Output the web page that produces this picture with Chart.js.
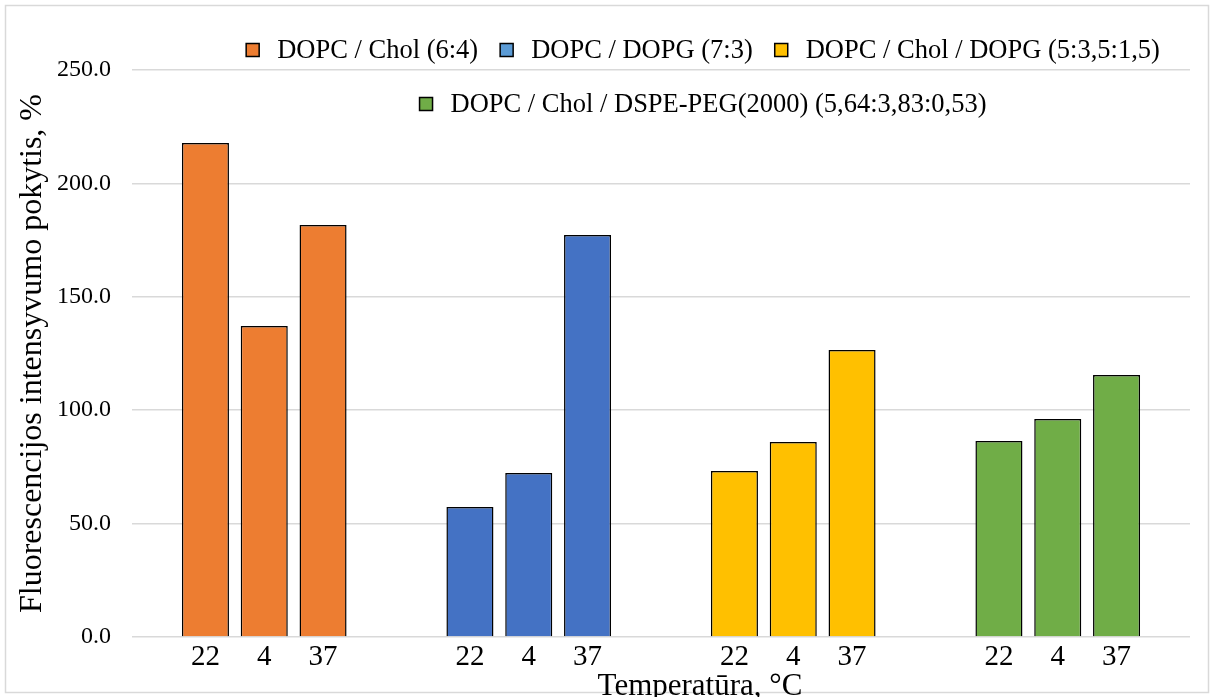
<!DOCTYPE html>
<html>
<head>
<meta charset="utf-8">
<script src="https://cdn.jsdelivr.net/npm/chart.js@4/dist/chart.umd.min.js"></script>
<style>
  html, body { margin: 0; padding: 0; background: #fff; }
</style>
</head>
<body>
<canvas id="myChart" width="1214" height="697"></canvas>
<script>
// data
const groups = ['DOPC / Chol (6:4)', 'DOPC / DOPG (7:3)', 'DOPC / Chol / DOPG (5:3,5:1,5)', 'DOPC / Chol / DSPE-PEG(2000) (5,64:3,83:0,53)'];
const temps = ['22', '4', '37'];
const t22 = [217.8, 57.3, 73.2, 86.4];
const t4 = [137.1, 72.3, 86.0, 96.1];
const t37 = [181.7, 177.2, 126.5, 115.5];
const xTitle = 'Temperatūra, °C';
const yTitle = 'Fluorescencijos intensyvumo pokytis, %';

const barColors = ['#ED7D31', '#4472C4', '#FFC000', '#70AD47'];
const legendColors = ['#ED7D31', '#5B9BD5', '#FFC000', '#70AD47'];
const serif = '"Liberation Serif", "Times New Roman", serif';

// grey frame round the whole picture
const framePlugin = {
  id: 'frame',
  beforeDraw(chart) {
    const ctx = chart.ctx;
    ctx.save();
    ctx.fillStyle = '#fff';
    ctx.fillRect(0, 0, chart.width, chart.height);
    ctx.strokeStyle = '#d9d9d9';
    ctx.lineWidth = 1.5;
    ctx.strokeRect(5.5, 5.5, chart.width - 11, chart.height - 10);
    ctx.restore();
  }
};

// 22 / 4 / 37 under each bar, plus the axis title (sits a bit right of centre, cut by the edge)
const tempTicks = {
  id: 'tempTicks',
  afterDatasetsDraw(chart) {
    const ctx = chart.ctx;
    const area = chart.chartArea;
    ctx.save();
    ctx.font = '29px ' + serif;
    ctx.fillStyle = '#000';
    ctx.textAlign = 'center';
    ctx.textBaseline = 'middle';
    chart.data.datasets.forEach((ds, i) => {
      chart.getDatasetMeta(i).data.forEach(bar => {
        ctx.fillText(temps[i], bar.x, area.bottom + 20);
      });
    });
    ctx.font = '31px ' + serif;
    ctx.textBaseline = 'alphabetic';
    ctx.fillText(xTitle, (area.left + area.right) / 2 + 39, chart.height - 2);
    ctx.restore();
  }
};

// legend by group colour, two rows like the original
const groupLegend = {
  id: 'groupLegend',
  afterDraw(chart) {
    const ctx = chart.ctx;
    ctx.save();
    ctx.font = '26.5px ' + serif;
    ctx.textBaseline = 'middle';
    const rows = [[0, 1, 2], [3]];
    const rowY = [50, 104];
    const box = 13, gap = 18, space = 22, cx = 703;
    rows.forEach((row, r) => {
      const widths = row.map(i => box + gap + ctx.measureText(groups[i]).width);
      const total = widths.reduce((a, b) => a + b, 0) + space * (row.length - 1);
      let x = cx - total / 2;
      row.forEach((i, k) => {
        ctx.fillStyle = legendColors[i];
        ctx.fillRect(x, rowY[r] - box / 2, box, box);
        ctx.strokeStyle = '#000';
        ctx.lineWidth = 1.5;
        ctx.strokeRect(x, rowY[r] - box / 2, box, box);
        ctx.fillStyle = '#000';
        ctx.fillText(groups[i], x + box + gap, rowY[r] + 1);
        x += widths[k] + space;
      });
    });
    ctx.restore();
  }
};

const ctx = document.getElementById('myChart').getContext('2d');

const mychart = new Chart(ctx, {
  type: 'bar',
  data: {
    labels: groups,
    datasets: [
      { label: temps[0], data: t22, backgroundColor: barColors, borderColor: '#000', borderWidth: 1.5 },
      { label: temps[1], data: t4, backgroundColor: barColors, borderColor: '#000', borderWidth: 1.5 },
      { label: temps[2], data: t37, backgroundColor: barColors, borderColor: '#000', borderWidth: 1.5 }
    ]
  },
  options: {
    responsive: false,
    animation: false,
    categoryPercentage: 0.667,
    barPercentage: 0.8,
    layout: { padding: { left: 8, right: 24, top: 70, bottom: 0 } },
    plugins: {
      legend: { display: false },
      tooltip: { enabled: false }
    },
    scales: {
      x: {
        grid: { display: false },
        border: { display: false },
        ticks: { display: false },
        afterFit: s => { s.height = 60; }
      },
      y: {
        min: 0,
        max: 250,
        ticks: {
          stepSize: 50,
          padding: 21,
          color: '#000',
          font: { family: serif, size: 24 },
          callback: v => v.toFixed(1)
        },
        grid: { color: '#d9d9d9', lineWidth: 1.5, drawTicks: false },
        border: { display: false },
        title: {
          display: true,
          text: yTitle,
          color: '#000',
          font: { family: serif, size: 32, lineHeight: 1.2 },
          padding: { top: 5, bottom: 0 }
        },
        afterFit: s => { s.width = 124; }
      }
    }
  },
  plugins: [framePlugin, tempTicks, groupLegend]
});
</script>
</body>
</html>
